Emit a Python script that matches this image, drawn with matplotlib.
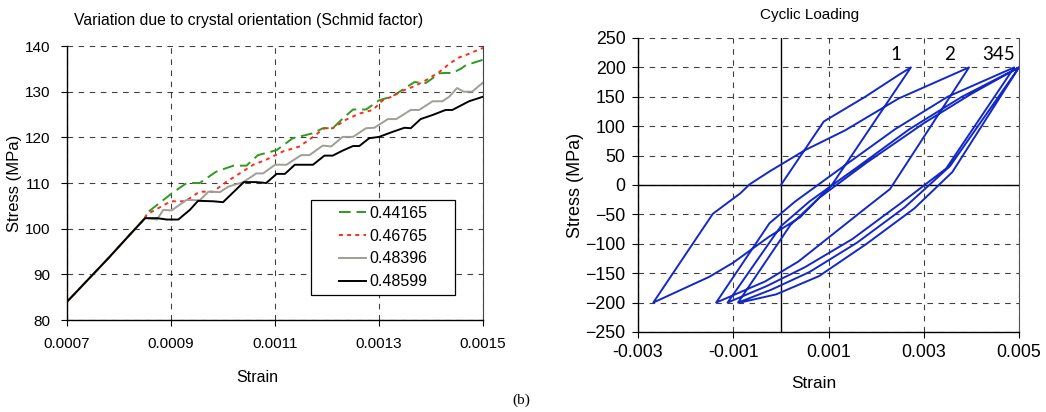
import matplotlib
matplotlib.use("Agg")
import matplotlib.pyplot as plt
from matplotlib.patches import Rectangle

plt.rcParams['font.family'] = ['Liberation Sans', 'DejaVu Sans']

# ---------------- data: left chart ----------------
left_title = "Variation due to crystal orientation (Schmid factor)"
left_xticks = [0.0007, 0.0009, 0.0011, 0.0013, 0.0015]
left_xticklabels = ["0.0007", "0.0009", "0.0011", "0.0013", "0.0015"]
left_yticks = [80, 90, 100, 110, 120, 130, 140]
series_labels = ["0.44165", "0.46765", "0.48396", "0.48599"]

shared_x = [0.0007, 0.00074, 0.00078, 0.00082, 0.00085]
shared_y = [84.0, 88.8, 93.6, 98.6, 102.3]

green_x = [0.000853, 0.0009, 0.00093, 0.000955, 0.000987, 0.00102, 0.001045, 0.001067,
           0.001103, 0.001134, 0.001173, 0.001192, 0.001211, 0.00123, 0.00125, 0.001275,
           0.0013, 0.001326, 0.001349, 0.001368, 0.00139, 0.001416, 0.001425, 0.001441,
           0.001457, 0.001467, 0.0015]
green_y = [103.4, 107.6, 110.0, 110.0, 112.5, 113.8, 113.8, 116.1, 117.2, 119.8, 120.9,
           122.0, 122.0, 124.1, 126.1, 126.1, 128.1, 129.0, 130.7, 132.1, 131.9, 134.0,
           134.1, 134.1, 135.0, 135.8, 137.0]

red_x = [0.000853, 0.0009, 0.000927, 0.000955, 0.000981, 0.001007, 0.001032, 0.001058,
         0.001083, 0.001115, 0.001147, 0.001173, 0.001195, 0.001211, 0.001237, 0.001262,
         0.001288, 0.001307, 0.001326, 0.001345, 0.001368, 0.00139, 0.001416, 0.001435,
         0.001454, 0.001473, 0.0015]
red_y = [103.1, 106.0, 106.0, 108.1, 108.1, 110.3, 112.1, 114.0, 115.1, 116.9, 118.0,
         120.1, 122.0, 122.0, 123.9, 125.2, 126.0, 128.1, 129.0, 130.2, 131.2, 132.5,
         134.3, 136.1, 137.5, 138.3, 139.6]

gray_x = [0.000853, 0.000873, 0.000885, 0.000901, 0.00093, 0.000955, 0.000972, 0.000994,
          0.00101, 0.001039, 0.001064, 0.001077, 0.0011, 0.001122, 0.00115, 0.001166,
          0.001192, 0.001208, 0.00123, 0.00125, 0.001275, 0.001291, 0.001317, 0.001333,
          0.001361, 0.001377, 0.001403, 0.001422, 0.001435, 0.00145, 0.001463, 0.001479,
          0.0015]
gray_y = [102.3, 102.0, 104.1, 104.0, 106.3, 106.2, 108.1, 108.0, 109.2, 110.2, 112.1,
          112.1, 114.0, 114.0, 116.1, 116.1, 118.2, 118.0, 120.1, 120.1, 122.0, 122.1,
          124.0, 124.0, 126.0, 126.0, 127.9, 127.9, 128.9, 130.8, 130.0, 130.0, 132.0]

black_x = [0.000873, 0.000892, 0.000914, 0.000936, 0.000952, 0.000981, 0.0010, 0.00102,
           0.00104, 0.001064, 0.001083, 0.001103, 0.001119, 0.001138, 0.001173, 0.001195,
           0.001211, 0.00123, 0.00125, 0.001262, 0.001281, 0.0013, 0.001326, 0.001349,
           0.001361, 0.00138, 0.001403, 0.001428, 0.001441, 0.001473, 0.0015]
black_y = [102.3, 102.0, 102.0, 104.1, 106.1, 106.0, 105.8, 108.0, 110.2, 110.2, 110.0,
           112.0, 112.0, 114.0, 114.0, 116.0, 116.0, 117.1, 118.1, 118.1, 119.8, 120.1,
           121.2, 122.1, 122.0, 124.0, 124.9, 126.0, 126.0, 127.9, 128.9]

# ---------------- data: right chart ----------------
right_title = "Cyclic Loading"
right_xticks = [-0.003, -0.001, 0.001, 0.003, 0.005]
right_xticklabels = ["-0.003", "-0.001", "0.001", "0.003", "0.005"]
right_yticks = [-250, -200, -150, -100, -50, 0, 50, 100, 150, 200, 250]

cyc_strain = [0.0, 0.00090, 0.00177, 0.00247, 0.00273,
              0.00107, 0.0004, -0.00025, -0.00100, -0.00150, -0.00268,
              -0.00143, -0.00085, -0.00066, -0.00024, 0.00050, 0.00135, 0.00247, 0.00395,
              0.00229, 0.00177, 0.00107, 0.00037, -0.00033, -0.00136,
              -0.00024, 0.0003, 0.0012, 0.0024, 0.0035, 0.00490,
              0.00347, 0.0025, 0.0015, 0.0005, -0.0003, -0.00112,
              0.0000, 0.0006, 0.0016, 0.0027, 0.0038, 0.00500,
              0.00355, 0.0026, 0.0016, 0.0006, -0.0002, -0.00090,
              0.0002, 0.0008, 0.0018, 0.0030, 0.0040, 0.00500,
              0.0036, 0.0028, 0.0018, 0.0008, -0.0001, -0.00086]
cyc_stress = [0, 108, 150, 187, 200,
              0, -55, -88, -132, -156, -200,
              -49, -14, 1, 23, 59, 93, 147, 200,
              -7, -40, -85, -130, -164, -200,
              -65, -28, 25, 95, 150, 200,
              28, -32, -92, -140, -172, -200,
              -70, -28, 30, 95, 150, 200,
              32, -38, -98, -148, -178, -200,
              -68, -22, 38, 105, 155, 200,
              22, -40, -100, -155, -186, -200]

peak_labels = ["1", "2", "345"]
peak_label_x = [0.00242, 0.00355, 0.00458]
peak_label_y = [222, 222, 222]

# ---------------- figure ----------------
fig = plt.figure(figsize=(10.46, 4.12), dpi=100)
grid_kw = dict(color='black', linestyle=(0, (5, 5)), linewidth=0.8, alpha=0.75)

# Left axes
ax1 = fig.add_axes([0.0641, 0.2233, 0.3977, 0.665])
styles = [dict(color='#2e9a1f', linestyle=(0, (6, 3)), linewidth=1.4),
          dict(color='#ff2a1a', linestyle=(0, (2, 2.2)), linewidth=1.4),
          dict(color='#a09e96', linestyle='-', linewidth=1.4),
          dict(color='black', linestyle='-', linewidth=1.4)]
for xv, yv, lab, st in zip([shared_x + green_x, shared_x + red_x, shared_x + gray_x, shared_x + black_x],
                           [shared_y + green_y, shared_y + red_y, shared_y + gray_y, shared_y + black_y],
                           series_labels, styles):
    ax1.plot(xv, yv, label=lab, **st)

ax1.set_xlim(0.0007, 0.0015)
ax1.set_ylim(80, 140)
ax1.set_xticks(left_xticks)
ax1.set_xticklabels(left_xticklabels)
ax1.set_yticks(left_yticks)
ax1.tick_params(labelsize=11, direction='out', length=4, width=0.8, pad=8)
ax1.grid(True, **grid_kw)
ax1.set_axisbelow(True)
ax1.spines['top'].set_visible(False)
ax1.spines['right'].set_color('#444444')
ax1.spines['right'].set_linewidth(0.8)
for s in ['left', 'bottom']:
    ax1.spines[s].set_linewidth(1.0)
ax1.set_ylabel("Stress (MPa)", fontsize=12, labelpad=2)
fig.text(249 / 1046, 1 - 21 / 412, left_title, fontsize=11.3, ha='center', va='center')
fig.text(257 / 1046, 1 - 378 / 412, "Strain", fontsize=11.5, ha='center', va='center')

# legend frame as in the reference (entries centred in a wider box)
ax1.add_patch(Rectangle((0.587, 0.091), 0.346, 0.347, transform=ax1.transAxes,
                        facecolor='white', edgecolor='black', linewidth=0.9, zorder=4))
leg = ax1.legend(loc='center', bbox_to_anchor=(0.7596, 0.2646), fontsize=11.5,
                 frameon=False, handlelength=1.7, handletextpad=0.2,
                 borderaxespad=0, labelspacing=0.5, borderpad=0.1)
leg.set_zorder(5)

# Right axes
ax2 = fig.add_axes([0.610, 0.1942, 0.3642, 0.7136])
ax2.plot(cyc_strain, cyc_stress, color='#1428c8', linewidth=1.4)
ax2.set_xlim(-0.003, 0.005)
ax2.set_ylim(-250, 250)
ax2.set_xticks(right_xticks)
ax2.set_xticklabels(right_xticklabels)
ax2.set_yticks(right_yticks)
ax2.tick_params(labelsize=12.8, direction='out', length=4, width=0.8, pad=5)
ax2.grid(True, **grid_kw)
ax2.set_axisbelow(True)
ax2.axhline(0, color='black', linewidth=1.0, zorder=1.5)
ax2.axvline(0, color='black', linewidth=1.0, zorder=1.5)
ax2.spines['top'].set_visible(False)
ax2.spines['right'].set_color('#555555')
for s in ['left', 'bottom']:
    ax2.spines[s].set_linewidth(1.0)
ax2.set_ylabel("Stress (MPa)", fontsize=13, labelpad=1)
fig.text(810 / 1046, 1 - 15 / 412, right_title, fontsize=11, ha='center', va='center')
fig.text(814 / 1046, 1 - 384 / 412, "Strain", fontsize=12.4, ha='center', va='center')
for lab, lx, ly in zip(peak_labels, peak_label_x, peak_label_y):
    ax2.text(lx, ly, lab, fontsize=13.5, family=['Lato', 'DejaVu Sans'],
             ha='center', va='center')

fig.text(0.498, 0.028, "(b)", fontsize=11, family=['Liberation Serif', 'DejaVu Serif'],
         ha='center', va='center')

fig.savefig("out.png", dpi=100)
